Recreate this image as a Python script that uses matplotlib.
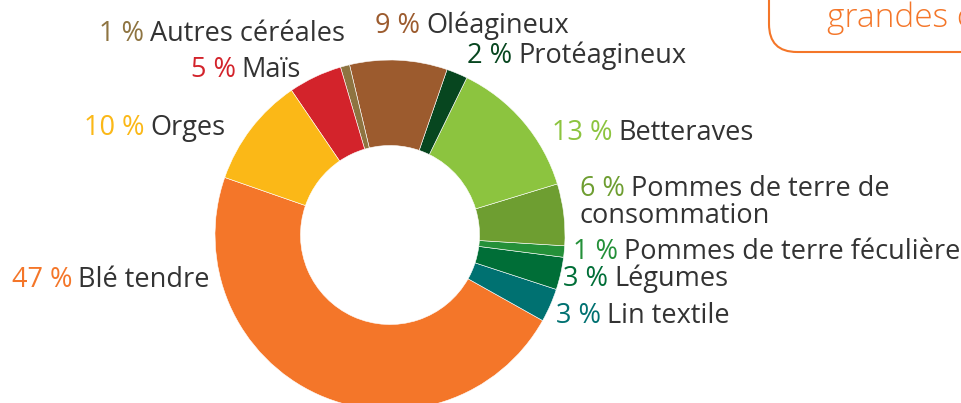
import matplotlib
matplotlib.use("Agg")
import matplotlib.pyplot as plt
from matplotlib.patches import FancyBboxPatch

W, H = 962, 403

categories = ["Blé tendre", "Lin textile", "Légumes", "Pommes de terre féculière",
              "Pommes de terre de\nconsommation", "Betteraves", "Protéagineux",
              "Oléagineux", "Autres céréales", "Maïs", "Orges"]
shares = [47.2, 3.1, 3.0, 1.05, 5.7, 13.05, 1.95, 9.0, 0.85, 4.95, 10.15]
pct_labels = ["47 %", "3 %", "3 %", "1 %", "6 %", "13 %", "2 %", "9 %", "1 %", "5 %", "10 %"]
colors = ["#F47629", "#007171", "#006E37", "#249039", "#6E9E31", "#8CC43F",
          "#07461F", "#9C5B2E", "#8E7441", "#D3232B", "#FBB817"]

# label anchor (pixel x, pixel y from top, alignment)
label_pos = [(210, 280, "right"), (556, 316, "left"), (563, 279, "left"),
             (573, 252, "left"), (580, 189, "left"), (552, 133, "left"),
             (467, 56, "left"), (375, 26, "left"), (345, 34, "right"),
             (301, 70, "right"), (226, 128, "right")]

FONT = "Open Sans"
WEIGHT = "normal"
FS = 19.5
TEXT_DARK = "#333333"
LINE_STEP = 27.5

fig = plt.figure(figsize=(W / 100, H / 100), dpi=100)
ax = fig.add_axes([0, 0, 1, 1])
ax.set_xlim(0, W)
ax.set_ylim(0, H)

cx, cy, R, r = 390, H - 235, 175, 89.5
ax.pie(shares, colors=colors, startangle=160.8, counterclock=True,
       center=(cx, cy), radius=R, frame=True,
       wedgeprops=dict(width=R - r, edgecolor="white", linewidth=0.4))
ax.set_xlim(0, W)
ax.set_ylim(0, H)
ax.set_aspect("equal")
ax.axis("off")

renderer = fig.canvas.get_renderer()
gap = 6
kw = dict(fontsize=FS, family=FONT, fontweight=WEIGHT, va="center")
for name, pct, col, (x, y, ha) in zip(categories, pct_labels, colors, label_pos):
    yy = H - y
    if ha == "left":
        t = ax.text(x, yy, pct, color=col, ha="left", **kw)
        bb = t.get_window_extent(renderer)
        lines = name.split("\n")
        ax.text(bb.x1 + gap, yy, lines[0], color=TEXT_DARK, ha="left", **kw)
        if len(lines) > 1:
            ax.text(x, yy - LINE_STEP, lines[1], color=TEXT_DARK, ha="left", **kw)
    else:
        t = ax.text(x, yy, name, color=TEXT_DARK, ha="right", **kw)
        bb = t.get_window_extent(renderer)
        ax.text(bb.x0 - gap, yy, pct, color=col, ha="right", **kw)

# partial box top right (cut by the figure edges, as in the source)
box = FancyBboxPatch((769, H - 52), 400, 200, boxstyle="round,pad=0,rounding_size=28",
                     facecolor="none", edgecolor="#F47629", linewidth=1.5)
ax.add_patch(box)
ax.text(827, H - 27, "grandes c", color="#F47629", fontsize=24,
        family=FONT, fontweight="light", ha="left", va="baseline")

fig.savefig("out.png", dpi=100)
